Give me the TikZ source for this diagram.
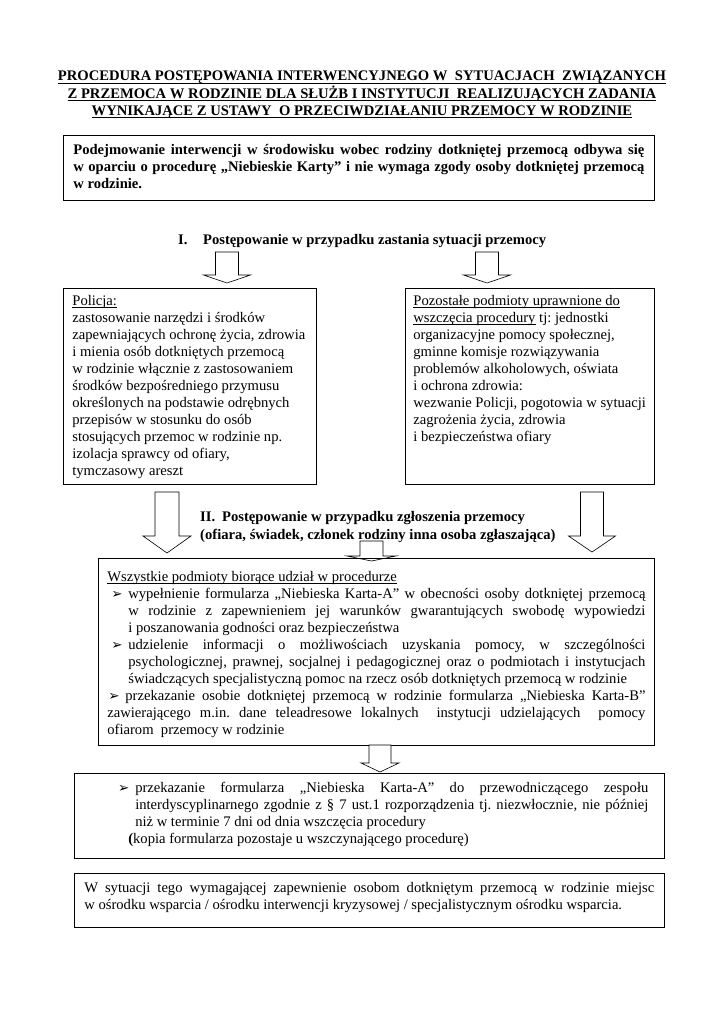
\documentclass[tikz,border=0pt]{standalone}
\usepackage{fontspec}
\setmainfont{Liberation Serif}
\newfontfamily\symfont{DejaVu Sans}
\usetikzlibrary{positioning, shadows}

\tolerance=10000
\hyphenpenalty=10000
\exhyphenpenalty=10000
\frenchspacing

% block arrow pointing down: tip, head length, shaft length, shaft half width, head half width
\newcommand{\blkarrow}[5]{%
  \draw[blk] (#1) -- ++(-#5,-#2) -- ++(#5-#4,0) -- ++(0,-#3)
    -- ++(2*#4,0) -- ++(0,#3) -- ++(#5-#4,0) -- cycle;}
% bullet hanging left of the text
\newcommand{\pkt}[2]{\leavevmode\llap{\makebox[#1][l]{\hspace{#2}{\symfont\fontsize{11}{12}\selectfont ➢}}}}
% underline at a fixed depth
\newcommand{\podkr}[1]{\leavevmode\setbox0\hbox{#1}\rlap{\rule[-1.8pt]{\wd0}{0.5pt}}\box0\relax}

\begin{document}
\begin{tikzpicture}[x=0.8211pt, y=-0.8211pt,
  box/.style={draw, line width=0.6pt, anchor=north west, inner ysep=0pt,
              font=\fontsize{12}{14}\selectfont},
  blk/.style={draw, fill=white, line width=0.5pt},
  ttl/.style={anchor=base, inner sep=0pt, font=\fontsize{12}{14}\selectfont\bfseries},
  hdg/.style={anchor=base west, inner sep=0pt, font=\fontsize{12}{14}\selectfont\bfseries}
]
\useasboundingbox (0,0) rectangle (725,1024);

% Title
\node[ttl] (t1) at (362,81)
    {\podkr{PROCEDURA POSTĘPOWANIA INTERWENCYJNEGO W\ \ SYTUACJACH\ \ ZWIĄZANYCH}};
\node[ttl] (t2) at (362,98)
    {\podkr{Z PRZEMOCA W RODZINIE DLA SŁUŻB I INSTYTUCJI\ \ REALIZUJĄCYCH ZADANIA}};
\node[ttl] (t3) at (362,115)
    {\podkr{WYNIKAJĄCE Z USTAWY\ \ O PRZECIWDZIAŁANIU PRZEMOCY W RODZINIE}};

% Intro box
\node[box, inner xsep=8.2pt, font=\fontsize{12}{14}\selectfont\bfseries,
      drop shadow={shadow xshift=0.8pt, shadow yshift=-0.8pt, fill=black, opacity=0.6},
      fill=white] (intro) at (63,135)
    {\parbox[t][53.4pt][t]{468.9pt}{\vspace*{5.8pt}\strut
     Podejmowanie interwencji w środowisku wobec rodziny dotkniętej przemocą odbywa się\linebreak
     w oparciu o procedurę „Niebieskie Karty” i nie wymaga zgody osoby dotkniętej przemocą\linebreak
     w rodzinie.}};

% Section I
\node[hdg] (hI) at (178,244)
    {\makebox[20.5pt][l]{I.}Postępowanie w przypadku zastania sytuacji przemocy};

\coordinate (tipPol) at (227,283);
\coordinate (tipPoz) at (487,283);
\blkarrow{tipPol}{8}{23}{11.5}{23.5}
\blkarrow{tipPoz}{8}{23}{11.5}{23.5}

\node[box, inner xsep=7.4pt] (pol) at (63,288)
    {\parbox[t][160.9pt][t]{193pt}{\raggedright\vspace*{4.2pt}\strut
     \podkr{Policja:}\\
     zastosowanie narzędzi i środków\\
     zapewniających ochronę życia, zdrowia\\
     i mienia osób dotkniętych przemocą\\
     w rodzinie włącznie z zastosowaniem\\
     środków bezpośredniego przymusu\\
     określonych na podstawie odrębnych\\
     przepisów w stosunku do osób\\
     stosujących przemoc w rodzinie np.\\
     izolacja sprawcy od ofiary,\\
     tymczasowy areszt}};

\node[box, inner xsep=6.6pt] (poz) at (405,288)
    {\parbox[t][160.9pt][t]{191.3pt}{\raggedright\vspace*{4.2pt}\strut
     \podkr{Pozostałe podmioty uprawnione do}\\
     \podkr{wszczęcia procedury} tj: jednostki\\
     organizacyjne pomocy społecznej,\\
     gminne komisje rozwiązywania\\
     problemów alkoholowych, oświata\\
     i ochrona zdrowia:\\
     wezwanie Policji, pogotowia w sytuacji\\
     zagrożenia życia, zdrowia\\
     i bezpieczeństwa ofiary}};

% Section II
\coordinate (tipL) at (167,553);
\coordinate (tipR) at (592,552);
\coordinate (tipM) at (371.5,561);
\blkarrow{tipL}{17}{44}{12}{24}
\blkarrow{tipR}{16}{44}{11.5}{23.5}
\blkarrow{tipM}{5}{15}{11.5}{24.5}

\node[hdg] (hII) at (200,521)
    {\makebox[18pt][l]{II.}Postępowanie w przypadku zgłoszenia przemocy};
\node[hdg] (hIIb) at (200,539)
    {(ofiara, świadek, członek rodziny inna osoba zgłaszająca)};

\node[box, inner xsep=7.4pt] (wsz) at (98,558)
    {\parbox[t][153.5pt][t]{441.8pt}{\vspace*{9.1pt}\strut
     \podkr{Wszystkie podmioty biorące udział w procedurze}\par
     {\leftskip=17.2pt
     \pkt{17.2pt}{3.3pt}wypełnienie formularza „Niebieska Karta-A” w obecności osoby dotkniętej przemocą\linebreak
     w rodzinie z zapewnieniem jej warunków gwarantujących swobodę wypowiedzi\linebreak
     i poszanowania godności oraz bezpieczeństwa\par
     \pkt{17.2pt}{3.3pt}udzielenie informacji o możliwościach uzyskania pomocy, w szczególności\linebreak
     psychologicznej, prawnej, socjalnej i pedagogicznej oraz o podmiotach i instytucjach\linebreak
     świadczących specjalistyczną pomoc na rzecz osób dotkniętych przemocą w rodzinie\par}
     \makebox[14.8pt][l]{\hspace{0.8pt}{\symfont\fontsize{11}{12}\selectfont ➢}}przekazanie osobie dotkniętej przemocą w rodzinie formularza „Niebieska Karta-B”\linebreak
     zawierającego m.in. dane teleadresowe lokalnych\ \ instytucji udzielających\ \ pomocy\linebreak
     ofiarom\ \ przemocy w rodzinie\par}};

\coordinate (tipK) at (380,772);
\blkarrow{tipK}{9}{18}{11}{19}

\node[box, inner xsep=13.1pt] (przek) at (74,773)
    {\parbox[t][69.8pt][t]{458.2pt}{\vspace*{5.8pt}
     {\leftskip=36.9pt
     \pkt{14pt}{0pt}\strut przekazanie formularza „Niebieska Karta-A” do przewodniczącego zespołu\linebreak
     interdyscyplinarnego zgodnie z § 7 ust.1 rozporządzenia tj. niezwłocznie, nie później\linebreak
     niż w terminie 7 dni od dnia wszczęcia procedury\par}
     {\leftskip=31.2pt \textbf{(}kopia formularza pozostaje u wszczynającego procedurę)\par}}};

\node[box, inner xsep=8.2pt] (osr) at (74,873)
    {\parbox[t][44.3pt][t]{468pt}{\vspace*{5.8pt}\strut
     W sytuacji tego wymagającej zapewnienie osobom dotkniętym przemocą w rodzinie miejsc\linebreak
     w ośrodku wsparcia / ośrodku interwencji kryzysowej / specjalistycznym ośrodku wsparcia.}};

\end{tikzpicture}
\end{document}
